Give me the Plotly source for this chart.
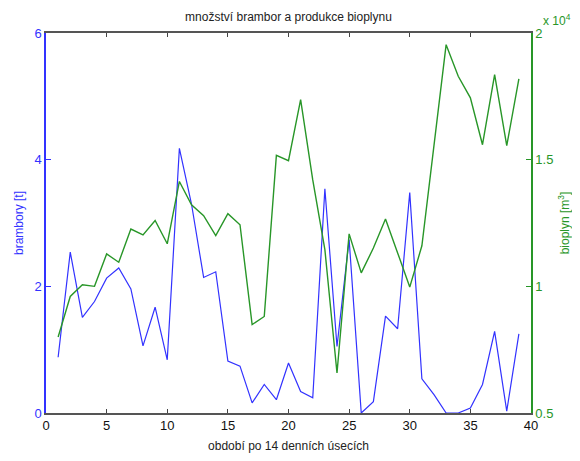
import plotly.graph_objects as go

obdobi = list(range(1, 40))
brambory = [0.88, 2.54, 1.51, 1.76, 2.13, 2.29, 1.96, 1.06, 1.67, 0.84,
            4.18, 3.30, 2.14, 2.23, 0.82, 0.74, 0.16, 0.45, 0.21, 0.79,
            0.34, 0.24, 3.54, 1.05, 2.74, 0.00, 0.18, 1.53, 1.33, 3.48,
            0.54, 0.29, 0.00, 0.00, 0.08, 0.45, 1.29, 0.03, 1.25]
bioplyn = [8000, 9600, 10060, 10000, 11280, 10950, 12260, 12030, 12600, 11680,
           14140, 13220, 12790, 12000, 12870, 12430, 8490, 8810, 15170, 14960,
           17370, 14200, 11450, 6580, 12070, 10530, 11510, 12660, 11320, 9970,
           11600, 15500, 19540, 18290, 17440, 15590, 18360, 15550, 18190]

x_ticks = [0, 5, 10, 15, 20, 25, 30, 35, 40]
y_ticks = [0, 2, 4, 6]
y2_ticks = [5000, 10000, 15000, 20000]
y2_ticktext = ["0.5", "1", "1.5", "2"]

BLUE = "rgb(50,50,255)"
GREEN = "rgb(40,150,40)"
FONT = "Liberation Sans, Arial, sans-serif"

W, H = 572, 453

fig = go.Figure()
fig.add_trace(go.Scatter(x=obdobi, y=brambory, mode="lines",
                         line=dict(color=BLUE, width=1.2), yaxis="y"))
fig.add_trace(go.Scatter(x=obdobi, y=bioplyn, mode="lines",
                         line=dict(color=GREEN, width=1.4), yaxis="y2"))

fig.update_layout(
    width=W, height=H,
    margin=dict(l=38, r=49, t=25, b=48, autoexpand=False),
    paper_bgcolor="white", plot_bgcolor="white",
    showlegend=False,
    font=dict(family=FONT, size=12, color="#222"),
    title=dict(text="množství brambor a produkce bioplynu", x=0.5, xanchor="center",
               xref="paper", y=1 - 9 / H, yanchor="middle",
               font=dict(size=12, color="#222")),
    xaxis=dict(range=[0, 40], tickvals=x_ticks, ticks="inside", ticklen=4,
               tickcolor="#444", showline=True, linecolor="#555", linewidth=1.5,
               mirror="ticks", showgrid=False, zeroline=False,
               tickfont=dict(size=13, color="#111"),
               title=dict(text="období po 14 denních úsecích", standoff=9,
                          font=dict(size=12, color="#222"))),
    yaxis=dict(range=[0, 6], tickvals=y_ticks, ticks="inside", ticklen=5,
               tickcolor=BLUE, showline=True, linecolor=BLUE, linewidth=1.5,
               showgrid=False, zeroline=False, tickfont=dict(size=13, color=BLUE),
               title=dict(text="brambory [t]", standoff=8, font=dict(size=12, color=BLUE))),
    yaxis2=dict(range=[5000, 20000], tickvals=y2_ticks, ticktext=y2_ticktext,
                overlaying="y", side="right", ticks="inside", ticklen=5,
                tickcolor=GREEN, showline=True, linecolor=GREEN, linewidth=1.5,
                showgrid=False, zeroline=False, tickfont=dict(size=13, color=GREEN),
                title=dict(text="bioplyn [m<sup>3</sup>]", standoff=8,
                           font=dict(size=12, color=GREEN))),
    annotations=[dict(text="x 10<sup>4</sup>", xref="paper", yref="paper",
                      x=1.0, y=1.0, xanchor="left", yanchor="bottom", xshift=10,
                      yshift=3, showarrow=False, font=dict(size=12, color=GREEN))],
)

fig.write_html("out.html")
